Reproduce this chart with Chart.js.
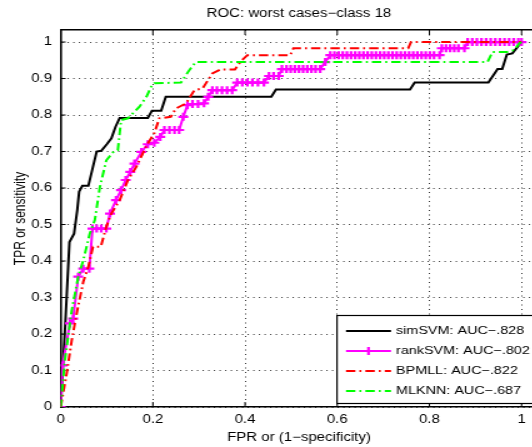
<!DOCTYPE html>
<html><head><meta charset="utf-8">
<script src="https://cdn.jsdelivr.net/npm/chart.js@4.4.0/dist/chart.umd.min.js"></script>
<style>
html,body{margin:0;padding:0;overflow:hidden;background:#fff;width:532px;height:447px;}
canvas{display:block;}
</style></head><body>
<canvas id="c" width="436" height="447" style="width:545px;height:447px"></canvas>
<script>
// reference picture is horizontally stretched; canvas is drawn narrow and stretched by S
const S = 1.25;

const chartTitle = "ROC: worst cases\u2212class 18";
const xTitle = "FPR or (1\u2212specificity)";
const yTitle = "TPR or sensitivity";
const xTicks = [0, 0.2, 0.4, 0.6, 0.8, 1];
const yTicks = [0, 0.1, 0.2, 0.3, 0.4, 0.5, 0.6, 0.7, 0.8, 0.9, 1];
const XMAX = 1.034, YMAX = 1.033;

const seriesNames = ["simSVM: AUC\u2212.828", "rankSVM: AUC\u2212.802", "BPMLL: AUC\u2212.822", "MLKNN: AUC\u2212.687"];

const simFpr = [0, 0.010, 0.019, 0.029, 0.036, 0.040, 0.047, 0.060, 0.078, 0.088, 0.100, 0.110, 0.119, 0.128, 0.189, 0.198, 0.218, 0.228, 0.457, 0.467, 0.758, 0.768, 0.928, 0.948, 0.958, 0.968, 0.980, 1.0];
const simTpr = [0, 0.23, 0.452, 0.475, 0.54, 0.59, 0.606, 0.606, 0.70, 0.702, 0.72, 0.736, 0.768, 0.792, 0.792, 0.812, 0.812, 0.85, 0.85, 0.87, 0.87, 0.889, 0.889, 0.926, 0.926, 0.966, 0.969, 1.0];

const rankFpr = [0, 0.004, 0.020, 0.027, 0.038, 0.049, 0.062, 0.069, 0.078, 0.088, 0.099, 0.107, 0.120, 0.131, 0.141, 0.151, 0.160, 0.175, 0.189, 0.203, 0.216, 0.225, 0.236, 0.247, 0.257, 0.266, 0.275, 0.286, 0.298, 0.311, 0.320, 0.329, 0.339, 0.350, 0.361, 0.372, 0.383, 0.394, 0.405, 0.416, 0.428, 0.441, 0.452, 0.462, 0.473, 0.480, 0.490, 0.499, 0.508, 0.517, 0.526, 0.535, 0.544, 0.553, 0.563, 0.574, 0.585, 0.594, 0.603, 0.612, 0.621, 0.630, 0.639, 0.648, 0.657, 0.666, 0.675, 0.684, 0.693, 0.702, 0.711, 0.720, 0.729, 0.738, 0.747, 0.756, 0.765, 0.774, 0.783, 0.792, 0.801, 0.810, 0.822, 0.827, 0.836, 0.845, 0.854, 0.863, 0.876, 0.883, 0.893, 0.903, 0.913, 0.923, 0.933, 0.943, 0.953, 0.963, 0.973, 0.983, 0.993, 1.0];
const rankTpr = [0, 0.114, 0.229, 0.242, 0.357, 0.379, 0.379, 0.489, 0.489, 0.489, 0.489, 0.530, 0.567, 0.594, 0.622, 0.644, 0.667, 0.699, 0.720, 0.724, 0.740, 0.759, 0.759, 0.759, 0.759, 0.795, 0.827, 0.830, 0.830, 0.832, 0.850, 0.868, 0.868, 0.868, 0.868, 0.868, 0.889, 0.889, 0.889, 0.889, 0.889, 0.889, 0.907, 0.907, 0.907, 0.926, 0.926, 0.926, 0.926, 0.926, 0.926, 0.926, 0.926, 0.926, 0.926, 0.945, 0.964, 0.964, 0.964, 0.964, 0.964, 0.964, 0.964, 0.964, 0.964, 0.964, 0.964, 0.964, 0.964, 0.964, 0.964, 0.964, 0.964, 0.964, 0.964, 0.964, 0.964, 0.964, 0.964, 0.964, 0.964, 0.964, 0.964, 0.983, 0.983, 0.983, 0.983, 0.983, 0.983, 1.0, 1.0, 1.0, 1.0, 1.0, 1.0, 1.0, 1.0, 1.0, 1.0, 1.0, 1.0, 1.0];

const bpFpr = [0, 0.013, 0.024, 0.036, 0.049, 0.060, 0.070, 0.087, 0.099, 0.110, 0.128, 0.146, 0.164, 0.187, 0.203, 0.214, 0.239, 0.250, 0.272, 0.290, 0.308, 0.329, 0.347, 0.378, 0.390, 0.405, 0.498, 0.505, 0.754, 0.760, 1.0];
const bpTpr = [0, 0.092, 0.183, 0.265, 0.343, 0.384, 0.439, 0.439, 0.494, 0.530, 0.567, 0.622, 0.658, 0.718, 0.750, 0.791, 0.795, 0.818, 0.832, 0.868, 0.873, 0.914, 0.925, 0.925, 0.946, 0.964, 0.964, 0.983, 0.983, 1.0, 1.0];

const mlFpr = [0, 0.009, 0.024, 0.038, 0.049, 0.063, 0.074, 0.085, 0.099, 0.115, 0.124, 0.131, 0.146, 0.171, 0.186, 0.196, 0.203, 0.261, 0.279, 0.293, 0.926, 0.937, 0.969, 0.984, 0.995, 1.0];
const mlTpr = [0, 0.128, 0.265, 0.357, 0.402, 0.475, 0.512, 0.603, 0.676, 0.700, 0.704, 0.786, 0.791, 0.823, 0.850, 0.877, 0.887, 0.889, 0.923, 0.945, 0.945, 0.973, 0.973, 0.978, 0.996, 1.0];

const pts = (xs, ys) => xs.map((v, i) => ({x: v, y: ys[i]}));
const FONT = {family: "'Liberation Sans', Arial, Helvetica, sans-serif", size: 12};
const DASHDOT = [7.5, 3.2, 1.6, 3.2];

const innerTicks = {
  id: 'innerTicks',
  beforeDatasetsDraw(chart) {
    const {ctx, chartArea: a, scales: {x, y}} = chart;
    ctx.save();
    ctx.strokeStyle = '#000'; ctx.lineWidth = 1;
    ctx.beginPath();
    xTicks.forEach(v => {
      const px = x.getPixelForValue(v);
      ctx.moveTo(px, a.bottom); ctx.lineTo(px, a.bottom - 5);
      ctx.moveTo(px, a.top); ctx.lineTo(px, a.top + 5);
    });
    yTicks.forEach(v => {
      const py = y.getPixelForValue(v);
      ctx.moveTo(a.left, py); ctx.lineTo(a.left + 4, py);
    });
    ctx.stroke();
    ctx.restore();
  }
};

const legendBox = {
  id: 'legendBox',
  afterDraw(chart) {
    const ctx = chart.ctx;
    const L = 337 / S, R = 537 / S, T = 315, B = 403;
    ctx.save();
    ctx.fillStyle = '#fff';
    ctx.fillRect(L, T, R - L, B - T);
    ctx.strokeStyle = '#000'; ctx.lineWidth = 1.2;
    ctx.strokeRect(L, T + 0.5, R - L, B - T);
    ctx.font = "11.5px " + FONT.family;
    ctx.textBaseline = 'middle';
    ctx.textAlign = 'left';
    chart.data.datasets.forEach((ds, i) => {
      const yy = 331 + 20 * i;
      const x1 = 346 / S, x2 = 391 / S;
      ctx.strokeStyle = ds.borderColor;
      ctx.lineWidth = ds.borderWidth;
      ctx.setLineDash(ds.borderDash || []);
      ctx.beginPath(); ctx.moveTo(x1, yy); ctx.lineTo(x2, yy); ctx.stroke();
      ctx.setLineDash([]);
      if (ds.pointRadius > 0) {
        const cx = (x1 + x2) / 2, r = ds.pointRadius;
        ctx.lineWidth = ds.pointBorderWidth;
        ctx.beginPath();
        ctx.moveTo(cx - r, yy); ctx.lineTo(cx + r, yy);
        ctx.moveTo(cx, yy - r); ctx.lineTo(cx, yy + r);
        ctx.stroke();
      }
      ctx.fillStyle = '#000';
      ctx.fillText(ds.label, 396 / S, yy);
    });
    ctx.restore();
  }
};

new Chart(document.getElementById('c'), {
  type: 'scatter',
  data: {
    datasets: [
      {label: seriesNames[0], data: pts(simFpr, simTpr), showLine: true, borderColor: '#000000', borderWidth: 2, pointRadius: 0, order: 3},
      {label: seriesNames[1], data: pts(rankFpr, rankTpr), showLine: true, borderColor: '#ff00ff', borderWidth: 2,
        pointStyle: 'cross', pointRadius: 4, pointBorderWidth: 2.2, pointBorderColor: '#ff00ff', pointBackgroundColor: '#ff00ff', order: 2},
      {label: seriesNames[2], data: pts(bpFpr, bpTpr), showLine: true, borderColor: '#ff0000', borderWidth: 2, borderDash: DASHDOT, pointRadius: 0, order: 1},
      {label: seriesNames[3], data: pts(mlFpr, mlTpr), showLine: true, borderColor: '#00ff00', borderWidth: 2, borderDash: DASHDOT, pointRadius: 0, order: 0}
    ]
  },
  options: {
    responsive: false,
    animation: false,
    layout: {padding: {left: 0, right: 4, top: 0, bottom: 0}},
    plugins: {legend: {display: false}, tooltip: {enabled: false}},
    elements: {line: {tension: 0, fill: false}},
    scales: {
      x: {
        type: 'linear', position: 'bottom', min: 0, max: XMAX,
        afterBuildTicks: s => { s.ticks = xTicks.map(v => ({value: v})); },
        afterFit: s => { s.height = 40; },
        ticks: {font: FONT, color: '#000', padding: 5.5, maxRotation: 0, autoSkip: false, callback: v => String(v)},
        grid: {color: '#333', lineWidth: 1, drawTicks: false},
        border: {display: true, color: '#000', width: 1.6, dash: [1, 3.5]},
        title: {display: true, text: xTitle, font: FONT, color: '#000', padding: {top: 0, bottom: 2.5}}
      },
      x2: {
        type: 'linear', position: 'top', min: 0, max: XMAX,
        afterBuildTicks: s => { s.ticks = []; },
        afterFit: s => { s.height = 30; },
        ticks: {display: false},
        grid: {display: false, drawTicks: false},
        border: {display: true, color: '#000', width: 1.6},
        title: {display: true, text: chartTitle, font: FONT, color: '#000', padding: {top: 6.5, bottom: 0}}
      },
      y: {
        type: 'linear', position: 'left', min: 0, max: YMAX,
        afterBuildTicks: s => { s.ticks = yTicks.map(v => ({value: v})); },
        afterFit: s => { s.width = 60.7 / S; },
        ticks: {font: FONT, color: '#000', padding: 7, autoSkip: false, callback: v => String(v)},
        grid: {color: '#333', lineWidth: 1, drawTicks: false},
        border: {display: true, color: '#000', width: 1.6, dash: [1, 3.5]},
        title: {display: true, text: yTitle, font: FONT, color: '#000', padding: {top: 9.5, bottom: 0}}
      }
    }
  },
  plugins: [innerTicks, legendBox]
});
</script>
</body></html>
